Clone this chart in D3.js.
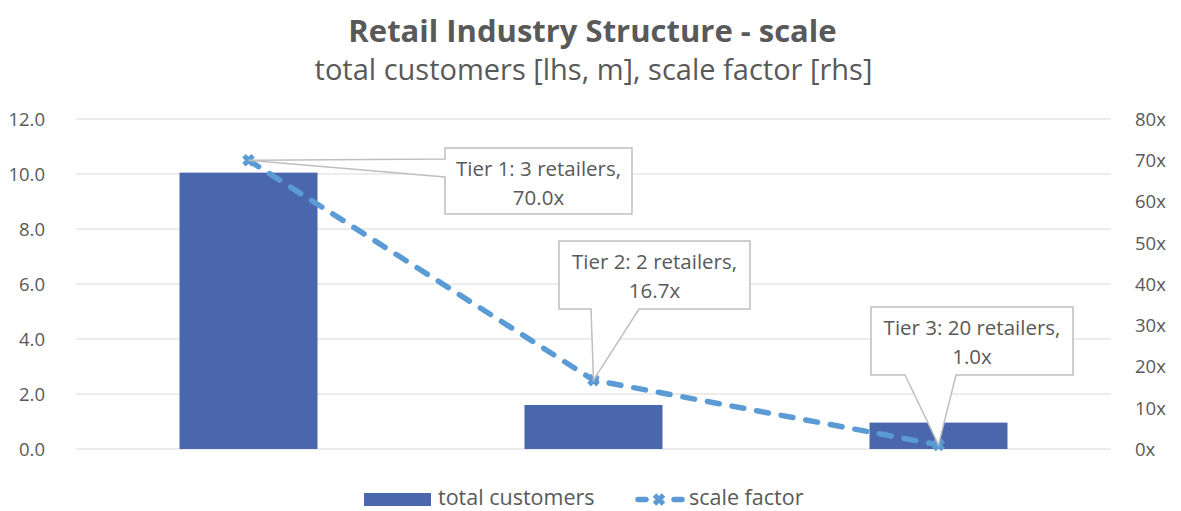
<!DOCTYPE html>
<html>
<head>
<meta charset="utf-8">
<script src="https://cdn.jsdelivr.net/npm/d3@7"></script>
<style>
  body { margin: 0; background: #fff; }
  text { font-family: "Open Sans", Lato, sans-serif; fill: #595959; }
</style>
</head>
<body>
<div id="chart"></div>
<script>
var width = 1181;
var height = 511;

// data
const tiers = ["Tier 1", "Tier 2", "Tier 3"];
const customers = [10.05, 1.6, 0.96];
const scaleFactor = [70.0, 16.7, 1.0];
const retailers = [3, 2, 20];
const leftTicks = [0, 2, 4, 6, 8, 10, 12];
const rightTicks = [0, 10, 20, 30, 40, 50, 60, 70, 80];

const margin = {left: 76, right: 70, top: 119, bottom: 62};

let svg = d3.select("#chart")
  .append("svg")
  .attr("width", width)
  .attr("height", height);

const x = d3.scaleBand()
  .domain(tiers)
  .range([margin.left, width - margin.right])
  .padding(0);

const yL = d3.scaleLinear().domain([0, 12]).range([height - margin.bottom, margin.top]);
const yR = d3.scaleLinear().domain([0, 80]).range([height - margin.bottom, margin.top]);

// title
svg.append("text")
  .attr("x", width / 2 + 2).attr("y", 42)
  .attr("text-anchor", "middle")
  .style("font-size", "31px").style("font-weight", "bold")
  .text("Retail Industry Structure - scale");
svg.append("text")
  .attr("x", width / 2 + 3).attr("y", 80)
  .attr("text-anchor", "middle")
  .style("font-size", "29px")
  .text("total customers [lhs, m], scale factor [rhs]");

// gridlines
svg.append("g")
  .selectAll("line")
  .data(leftTicks)
  .enter().append("line")
  .attr("x1", margin.left).attr("x2", width - margin.right)
  .attr("y1", d => yL(d)).attr("y2", d => yL(d))
  .attr("stroke", "#d9d9d9").attr("stroke-width", 1);

// left axis
const axL = svg.append("g")
  .attr("transform", `translate(${margin.left - 28},0)`)
  .call(d3.axisLeft(yL).tickValues(leftTicks).tickFormat(d3.format(".1f")).tickSize(0));
axL.select(".domain").remove();
axL.selectAll("text").style("font-size", "18.5px").attr("dy", "0.35em");

// right axis
const axR = svg.append("g")
  .attr("transform", `translate(${width - margin.right + 21},0)`)
  .call(d3.axisRight(yR).tickValues(rightTicks).tickFormat(d => d + "x").tickSize(0));
axR.select(".domain").remove();
axR.selectAll("text").style("font-size", "18.5px").attr("dy", "0.35em");

// bars
const barW = x.bandwidth() * 0.4;
svg.append("g")
  .selectAll("rect")
  .data(customers)
  .enter().append("rect")
  .attr("x", (d, i) => x(tiers[i]) + x.bandwidth() / 2 - barW / 2)
  .attr("y", d => yL(d))
  .attr("width", barW)
  .attr("height", d => yL(0) - yL(d))
  .attr("fill", "#4a66ac");

// line
const cx = i => x(tiers[i]) + x.bandwidth() / 2;
const line = d3.line().x((d, i) => cx(i)).y(d => yR(d));
svg.append("path")
  .datum(scaleFactor)
  .attr("d", line)
  .attr("fill", "none")
  .attr("stroke", "#5b9bd5")
  .attr("stroke-width", 5.5)
  .attr("stroke-linecap", "round")
  .attr("stroke-dasharray", "12,13");

function xMarker(g, px, py) {
  const s = 4.5;
  g.append("path")
    .attr("d", `M${px - s},${py - s}L${px + s},${py + s}M${px + s},${py - s}L${px - s},${py + s}`)
    .attr("stroke", "#5b9bd5").attr("stroke-width", 5).attr("fill", "none");
}
const markers = svg.append("g");
scaleFactor.forEach((d, i) => xMarker(markers, cx(i), yR(d)));

// callouts
const boxes = [
  {x: 445, y: 148, w: 187, h: 66, side: "left", a: 159, b: 177},
  {x: 559, y: 241, w: 191, h: 68, side: "bottom", a: 591, b: 639},
  {x: 871, y: 307, w: 202, h: 68, side: "bottom", a: 905, b: 956}
];
const callouts = svg.append("g");
boxes.forEach((bx, i) => {
  const px = cx(i), py = yR(scaleFactor[i]);
  let pts;
  if (bx.side === "left") {
    pts = [[bx.x, bx.y], [bx.x, bx.a], [px, py], [bx.x, bx.b], [bx.x, bx.y + bx.h],
           [bx.x + bx.w, bx.y + bx.h], [bx.x + bx.w, bx.y]];
  } else {
    pts = [[bx.x, bx.y], [bx.x, bx.y + bx.h], [bx.a, bx.y + bx.h], [px, py], [bx.b, bx.y + bx.h],
           [bx.x + bx.w, bx.y + bx.h], [bx.x + bx.w, bx.y]];
  }
  callouts.append("path")
    .attr("d", "M" + pts.join("L") + "Z")
    .attr("fill", "#fff").attr("stroke", "#bfbfbf").attr("stroke-width", 1.5);
  const t = callouts.append("text")
    .attr("text-anchor", "middle")
    .style("font-size", "20.5px");
  t.append("tspan").attr("x", bx.x + bx.w / 2).attr("y", bx.y + 28)
    .text(`${tiers[i]}: ${retailers[i]} retailers,`);
  t.append("tspan").attr("x", bx.x + bx.w / 2).attr("y", bx.y + 57)
    .text(d3.format(".1f")(scaleFactor[i]) + "x");
});

// legend
const lg = svg.append("g");
lg.append("rect").attr("x", 364).attr("y", 493).attr("width", 67).attr("height", 13).attr("fill", "#4a66ac");
lg.append("text").attr("x", 438).attr("y", 505).style("font-size", "21.5px").text("total customers");
lg.append("line").attr("x1", 638).attr("x2", 682).attr("y1", 499.5).attr("y2", 499.5)
  .attr("stroke", "#5b9bd5").attr("stroke-width", 5.5).attr("stroke-dasharray", "8,28").attr("stroke-linecap", "round");
xMarker(lg, 659, 499.5);
lg.append("text").attr("x", 689).attr("y", 505).style("font-size", "21.5px").text("scale factor");
</script>
</body>
</html>
